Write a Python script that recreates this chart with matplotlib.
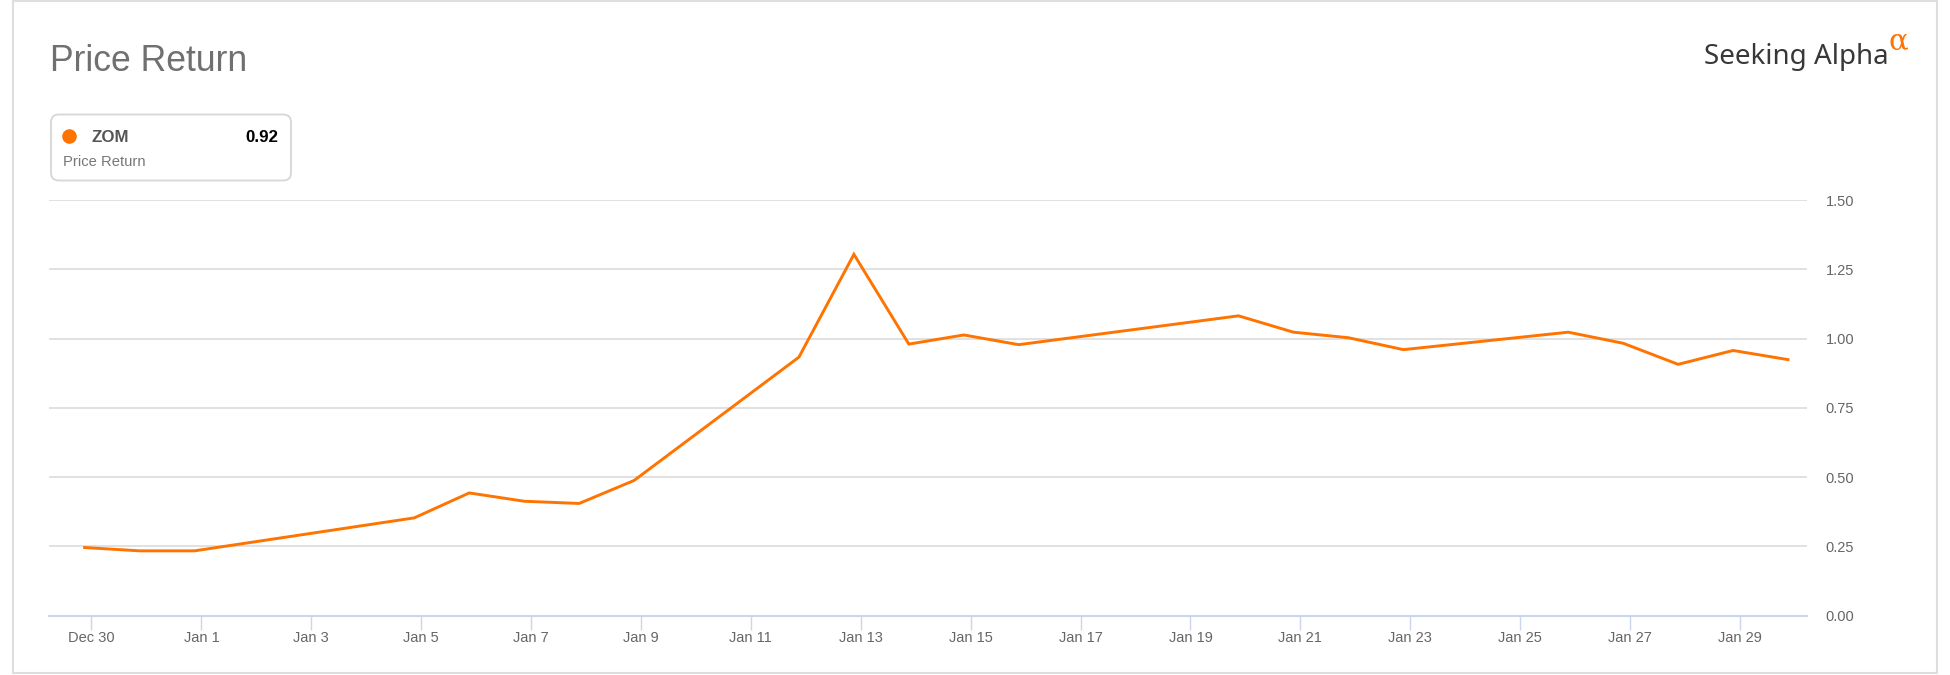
import numpy as np
import pandas as pd
import matplotlib
matplotlib.use("Agg")
from matplotlib import pyplot as plt
from matplotlib.patches import Rectangle, FancyBboxPatch
from matplotlib.lines import Line2D

# Data (plotted dates, price return)
dates = ["2019-12-30", "2019-12-31", "2020-01-01", "2020-01-05", "2020-01-06",
         "2020-01-07", "2020-01-08", "2020-01-09", "2020-01-12", "2020-01-13",
         "2020-01-14", "2020-01-15", "2020-01-16", "2020-01-20", "2020-01-21",
         "2020-01-22", "2020-01-23", "2020-01-26", "2020-01-27", "2020-01-28",
         "2020-01-29", "2020-01-30"]
values = [0.246, 0.234, 0.234, 0.353, 0.443,
          0.413, 0.405, 0.488, 0.933, 1.304,
          0.980, 1.013, 0.978, 1.082, 1.023,
          1.003, 0.960, 1.023, 0.983, 0.907,
          0.957, 0.924]
ticker = "ZOM"
last_value = "0.92"
y_ticks = [0.0, 0.25, 0.5, 0.75, 1.0, 1.25, 1.5]
x_tick_dates = pd.date_range("2019-12-30", "2020-01-29", freq="2D")

W, H = 1950, 675
ORANGE = "#ff7300"
plt.rcParams['font.family'] = ['Liberation Sans', 'DejaVu Sans']

fig = plt.figure(figsize=(W / 100, H / 100), dpi=100)

def fx(x):
    return x / W

def fy(y):
    return 1 - y / H

# outer frame
fig.patches.append(Rectangle((fx(12.5), fy(673)), fx(1937) - fx(12.5), fy(1) - fy(673),
                             transform=fig.transFigure, fill=False,
                             edgecolor="#dedede", linewidth=1.5))

# plot area
left, right, top, bottom = 49, 1807, 200, 615.7
ax = fig.add_axes([fx(left), fy(bottom), fx(right) - fx(left), fy(top) - fy(bottom)])

x = pd.to_datetime(dates) - pd.Timedelta(hours=3)
ax.plot(x, values, color=ORANGE, linewidth=2.1, solid_joinstyle="miter")

start = pd.Timestamp("2019-12-30")
ax.set_xlim(start - pd.Timedelta(days=0.773), start + pd.Timedelta(days=31.22))
ax.set_ylim(0, 1.5)

ax.set_yticks(y_ticks)
ax.set_yticklabels([f"{v:.2f}" for v in y_ticks])
ax.yaxis.tick_right()
ax.tick_params(axis="y", length=0, pad=13.5, labelsize=10.5, labelcolor="#666666")
ax.grid(axis="y", color="#dcdcdc", linewidth=1.2)
ax.set_axisbelow(True)

ax.set_xticks(x_tick_dates)
ax.set_xticklabels([f"{d:%b} {d.day}" for d in x_tick_dates])
ax.tick_params(axis="x", length=9.8, width=1, color="#ccd6eb", pad=1.5,
               labelsize=10.5, labelcolor="#666666")

for s in ["top", "left", "right"]:
    ax.spines[s].set_visible(False)
ax.spines["bottom"].set_color("#ccd6eb")
ax.spines["bottom"].set_linewidth(1.5)

# title
fig.text(fx(50), fy(71), "Price Return", fontsize=25.6, color="#707070",
         ha="left", va="baseline")

# logo
fig.text(fx(1888.5), fy(64.2), "Seeking Alpha", fontsize=20, color="#383838",
         ha="right", va="baseline", family=["Noto Sans", "DejaVu Sans"])
fig.text(fx(1889), fy(49.5), "\u03b1", fontsize=21, color=ORANGE,
         ha="left", va="baseline", family=["DejaVu Serif"])

# legend card
fig.patches.append(FancyBboxPatch((fx(51), fy(180.5)), fx(291) - fx(51), fy(114.5) - fy(180.5),
                                  boxstyle="round,pad=0,rounding_size=0.004",
                                  transform=fig.transFigure, facecolor="white",
                                  edgecolor="#d6d6d6", linewidth=1.3,
                                  mutation_aspect=W / H))
fig.add_artist(Line2D([fx(69)], [fy(136)], transform=fig.transFigure, marker="o",
                      markersize=10.5, color=ORANGE, markeredgewidth=0))
fig.text(fx(91.5), fy(141.7), ticker, fontsize=12.2, fontweight="bold",
         color="#555555", ha="left", va="baseline")
fig.text(fx(278.5), fy(141.7), last_value, fontsize=12.2, fontweight="bold",
         color="#000000", ha="right", va="baseline")
fig.text(fx(63.5), fy(166.5), "Price Return", fontsize=10.6, color="#777777",
         ha="left", va="baseline")

fig.savefig("out.png", dpi=100)
